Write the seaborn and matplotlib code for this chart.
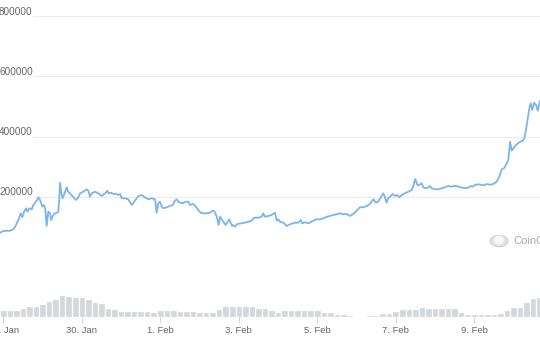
import numpy as np
import pandas as pd
import matplotlib
matplotlib.use("Agg")
import matplotlib.pyplot as plt
import matplotlib.transforms as mtransforms
from matplotlib.patches import Circle, Ellipse
import seaborn as sns

# ---- data (hours since 28 Jan 00:00) ----
price_hours = [-2.0, 0.0, 4.1, 6.1, 7.2, 9.2, 10.6, 11.6, 12.7, 13.9, 14.7, 15.9, 17.4, 18.3, 20.0,
               21.6, 22.9, 23.8, 24.9, 25.7, 26.5, 27.5, 28.6, 29.2, 30.2, 31.6, 33.0, 33.6, 34.2,
               34.7, 35.5, 36.3, 37.3, 38.3, 38.8, 39.7, 41.2, 42.8, 44.5, 45.9, 46.9, 48.9, 51.0,
               52.0, 53.0, 54.1, 56.1, 58.1, 60.2, 61.6, 62.8, 63.6, 64.5, 65.7, 67.3, 69.3, 70.3,
               71.4, 72.4, 74.4, 76.4, 78.5, 80.5, 82.6, 84.6, 86.6, 88.7, 90.7, 92.8, 93.8, 94.8,
               95.8, 96.9, 97.8, 99.9, 101.9, 103.6, 105.0, 106.0, 107.0, 108.1, 110.1, 111.1, 113.1,
               114.2, 116.2, 117.8, 119.2, 120.7, 122.3, 124.4, 126.4, 128.1, 129.3, 130.5, 131.7,
               132.5, 133.6, 134.5, 136.0, 137.2, 138.2, 139.1, 139.9, 140.6, 141.7, 143.1, 145.8,
               148.8, 151.9, 153.3, 155.9, 158.0, 159.0, 160.0, 162.0, 164.1, 166.1, 167.2, 168.2,
               169.2, 171.2, 173.3, 175.3, 178.4, 180.4, 181.9, 182.8, 184.5, 186.5, 189.6, 191.6,
               193.7, 195.7, 197.8, 199.8, 201.8, 203.9, 205.5, 207.9, 210.0, 212.0, 214.0, 216.1,
               218.1, 220.2, 222.2, 224.2, 226.3, 227.9, 229.3, 230.8, 232.4, 233.4, 234.4, 235.4,
               236.9, 238.1, 239.5, 240.9, 242.2, 243.6, 245.6, 247.7, 249.7, 250.7, 251.9, 253.2,
               254.4, 255.8, 256.8, 258.5, 259.9, 260.9, 262.0, 264.0, 266.0, 268.1, 270.1, 272.1,
               274.2, 276.2, 278.2, 280.3, 282.3, 284.4, 285.8, 287.0, 288.4, 290.5, 292.5, 294.0,
               295.6, 297.6, 299.7, 301.7, 303.3, 304.8, 306.2, 307.9, 308.8, 309.9, 310.9, 311.9,
               313.5, 315.5, 317.6, 318.6, 319.6, 320.7, 321.7, 322.5, 323.5, 324.5, 325.8, 326.8,
               328.2]
price_values = [79900, 85500, 86500, 91200, 99800, 122100, 144400, 131100, 149800, 161100, 149800,
                161100, 157700, 172100, 183000, 197700, 183000, 166400, 172100, 157700, 102200,
                149800, 144400, 122100, 135400, 144400, 146400, 149800, 188700, 246300, 211000,
                194400, 208700, 222000, 231000, 216300, 208700, 197700, 188700, 197700, 211000,
                216300, 224300, 219600, 199700, 211000, 216300, 211000, 202000, 208700, 213000,
                219600, 211000, 213000, 208700, 208700, 205300, 208700, 194400, 194400, 191000,
                172100, 186400, 202000, 205300, 197700, 191000, 194400, 191000, 146400, 177700,
                183000, 166400, 161100, 164400, 168700, 172100, 186400, 191000, 183000, 179700,
                177700, 183000, 183000, 172100, 175400, 166400, 155400, 146400, 144400, 144400,
                146400, 153100, 149800, 133100, 105500, 133100, 124500, 116500, 105500, 116500,
                124500, 111200, 102200, 105500, 99800, 108800, 111200, 114500, 119800, 129800,
                129800, 133100, 144400, 133100, 135400, 138800, 146400, 119800, 124500, 116500,
                113200, 102200, 107800, 113200, 113200, 122100, 111200, 114500, 111200, 119800,
                124500, 124500, 127800, 133100, 135400, 138800, 141100, 144400, 141100, 142100,
                135400, 142100, 153100, 164400, 164400, 168700, 175400, 191000, 179700, 183000,
                197700, 211000, 197700, 179700, 194400, 202000, 208700, 202000, 205300, 197700,
                205300, 211000, 216300, 222000, 235300, 258600, 238600, 238600, 244300, 231000,
                227600, 231000, 235300, 227600, 224300, 224300, 227600, 231000, 235300, 233000,
                236300, 233000, 229600, 228600, 229600, 235300, 233000, 238600, 241000, 238600,
                237600, 241900, 239600, 241900, 249600, 266200, 290900, 294200, 310800, 321800,
                382700, 352800, 360800, 371700, 380700, 386000, 394000, 421700, 460600, 493900,
                510500, 488200, 512500, 504900, 485900, 519200]

# volume, one bar every 4 hours starting 28 Jan 00:00
volume_values = [7, 7, 7, 9, 11, 11, 12.7, 16, 18, 22, 21, 20, 20, 18, 15.3, 13.7, 8.7, 7.7,
                 6.3, 6.3, 6.3, 6.3, 6.3, 5.3, 7, 7, 7, 6, 6, 6, 5.3, 5.3, 5.3, 8, 11.3, 11.3,
                 11, 11, 11, 8.7, 8.7, 7, 4.7, 7, 7, 7, 7, 7, 7, 4.7, 4.7, 3, 3, 2.5, 1.3, 1.5,
                 2, 2.5, 3.7, 4.5, 6, 8, 8, 8, 10.3, 8.7, 8.7, 8.7, 8.7, 8.7, 5.3, 2.7, 2.7,
                 2.7, 2.7, 2.7, 4.3, 7, 10.3, 10.3, 15.3, 18.7, 20.3]
volume_hours = [4 * i for i in range(len(volume_values))]

tick_hours = [0, 48, 96, 144, 192, 240, 288]
tick_labels = ["28. Jan", "30. Jan", "1. Feb", "3. Feb", "5. Feb", "7. Feb", "9. Feb"]
grid_values = [0, 200000, 400000, 600000, 800000]
grid_labels = ["", "200000", "400000", "600000", "800000"]

# ---- style ----
sns.set_style("white")
plt.rcParams["font.family"] = ["Liberation Sans", "DejaVu Sans"]

W, H = 540, 340
fig = plt.figure(figsize=(W / 100, H / 100), dpi=100)
fig.patch.set_facecolor("white")

XMIN, XMAX = -2.02, 328.2
PRICE_BOTTOM = 256.7   # px from top
VOL_BASE = 317.0       # px from top
VOL_H = 60.0

# volume axes
axv = fig.add_axes([0, (H - VOL_BASE) / H, 1, VOL_H / H])
vol_df = pd.DataFrame({"hour": volume_hours, "vol": volume_values})
sns.barplot(data=vol_df, x="hour", y="vol", native_scale=True, orient="x",
            color="#d4d7db", edgecolor="white", linewidth=0.9, width=1.0,
            saturation=1, errorbar=None, ax=axv)
axv.set_xlim(XMIN, XMAX)
axv.set_ylim(0, VOL_H)
axv.set_xlabel("")
axv.set_ylabel("")
axv.set_yticks([])
for s in axv.spines.values():
    s.set_visible(False)
axv.set_facecolor("none")
axv.set_xticks(tick_hours)
axv.set_xticklabels(tick_labels)
axv.tick_params(axis="x", length=4.5, width=0.8, color="#ccd6eb", pad=2,
                labelsize=6.8, labelcolor="#666666", direction="out", bottom=True)

# price axes
ax = fig.add_axes([0, (H - PRICE_BOTTOM) / H, 1, PRICE_BOTTOM / H])
ax.set_facecolor("none")
PX_PER_UNIT = 60.1 / 200000
ax.set_ylim(0, PRICE_BOTTOM / PX_PER_UNIT)
ax.set_xlim(XMIN, XMAX)
for s in ax.spines.values():
    s.set_visible(False)
ax.set_xticks([])
ax.set_yticks([])

for v, lab in zip(grid_values, grid_labels):
    xmin = 0 if lab == "" else 33 / W
    ax.axhline(v, xmin=xmin, xmax=1, color="#ececec", linewidth=0.8, zorder=0)
    if lab:
        tr = mtransforms.offset_copy(
            mtransforms.blended_transform_factory(ax.transAxes, ax.transData),
            fig=fig, x=-1, y=1.2, units="dots")
        ax.text(0, v, lab, transform=tr, ha="left", va="baseline",
                fontsize=7.2, color="#666666")

price_df = pd.DataFrame({"hour": price_hours, "price": price_values})
sns.lineplot(data=price_df, x="hour", y="price", ax=ax, color="#7cb5ec",
             linewidth=1.3, estimator=None, sort=False, zorder=3)
ax.set_xlabel("")
ax.set_ylabel("")
ax.set_xlim(XMIN, XMAX)

# watermark
fig.add_artist(Circle((499 / W, 1 - 241 / H), 9 / W, transform=fig.transFigure,
                      facecolor="#e4e4e4", edgecolor="#d0d0d0", linewidth=0.8))
fig.add_artist(Ellipse((499 / W, 1 - 240 / H), 10 / W, 9 / H, transform=fig.transFigure,
                       facecolor="#f7f7f7", edgecolor="none"))
fig.text(513 / W, 1 - 241 / H, "CoinGecko", ha="left", va="center",
         fontsize=8, color="#a9a9a9")

fig.savefig("out.png", dpi=100)
